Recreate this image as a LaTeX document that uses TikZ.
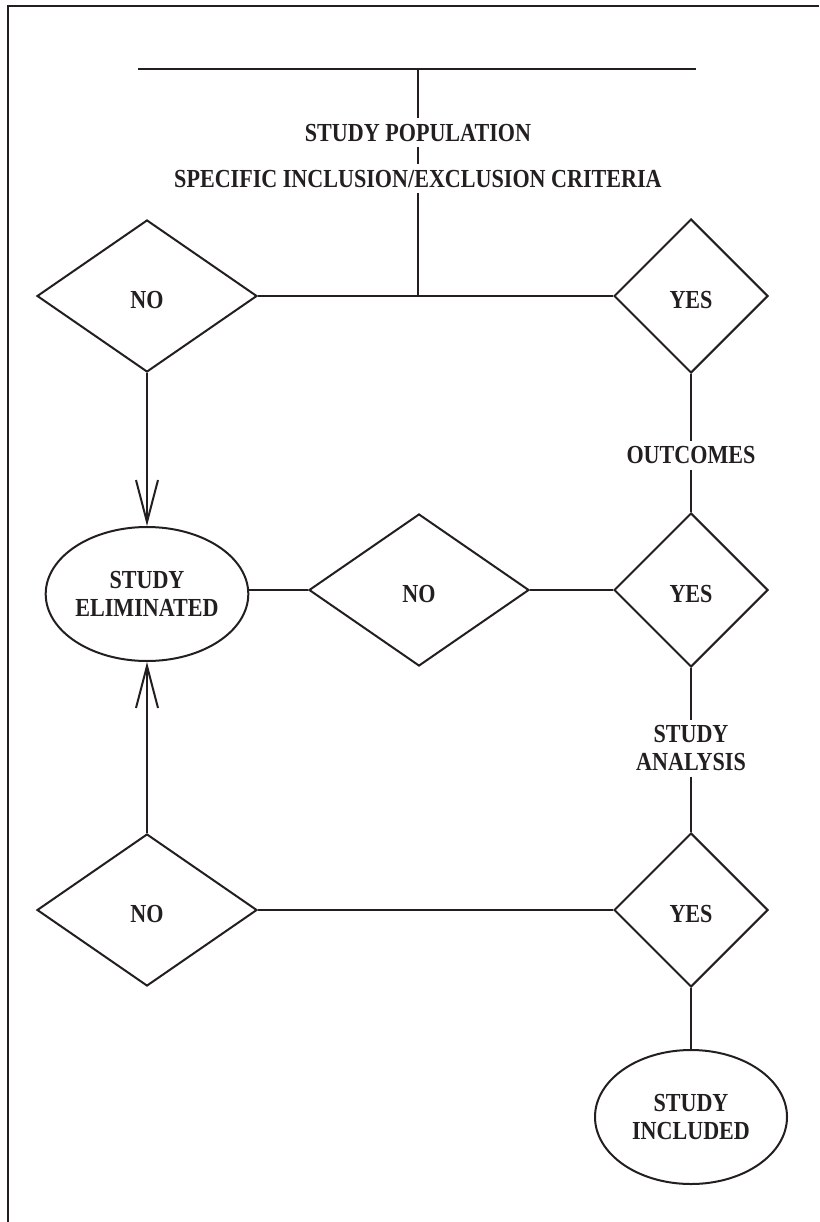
\documentclass[tikz,border=0pt]{standalone}
\usepackage{fontspec}
\setmainfont[FakeStretch=0.85]{Liberation Serif}
\usetikzlibrary{shapes.geometric,arrows.meta}
\definecolor{ink}{RGB}{35,31,32}

\begin{document}
\begin{tikzpicture}[x=1pt,y=-1pt,line width=2pt,color=ink,
  font=\fontsize{26}{28}\selectfont\bfseries,
  nobox/.style={diamond,draw,inner sep=0pt,minimum width=220pt,minimum height=152pt,text height=25pt,text depth=0pt},
  yesbox/.style={diamond,draw,inner sep=0pt,minimum width=154pt,minimum height=154pt,text height=25pt,text depth=0pt},
  endbox/.style={ellipse,draw,inner sep=0pt,minimum width=192pt,minimum height=134pt,align=center},
  lbl/.style={inner sep=5pt,align=center,text height=17pt,text depth=0pt},
  barb/.style={-{Straight Barb[length=42pt,width=22pt]}}]
\useasboundingbox (0,0) rectangle (819,1222);
\draw[line width=2.6pt] (8,1222) |- (819,6);

\coordinate (tl) at (138,69);
\coordinate (tr) at (696,69);
\coordinate (tm) at (418,69);
\draw[line width=2.6pt] (tl) -- (tr);

\node[lbl] (pop) at (418,133) {STUDY POPULATION};
\node[lbl] (crit) at (418,179) {SPECIFIC INCLUSION/EXCLUSION CRITERIA};
\coordinate (join) at (418,296);
\draw (tm) -- (pop) -- (crit) -- (join);

\node[nobox] (no1) at (147,296) {NO};
\node[yesbox] (yes1) at (691,296) {YES};
\draw (no1) -- (yes1);

\node[endbox] (elim) at (147,594) {STUDY\\ELIMINATED};
\node[nobox] (no2) at (419,590) {NO};
\node[yesbox] (yes2) at (691,590) {YES};
\draw (elim.east |- no2) -- (no2) -- (yes2);

\node[lbl] (outc) at (691,455) {OUTCOMES};
\draw (yes1) -- (outc) -- (yes2);

\node[nobox] (no3) at (147,910) {NO};
\node[yesbox] (yes3) at (691,910) {YES};
\draw (no3) -- (yes3);

\node[lbl,text height=45pt] (anal) at (691,748) {STUDY\\ANALYSIS};
\draw (yes2) -- (anal) -- (yes3);

\node[endbox] (incl) at (691,1117) {STUDY\\INCLUDED};
\draw (yes3) -- (incl);

\draw[barb] (no1) -- (elim);
\draw[barb] (no3) -- (elim);
\end{tikzpicture}
\end{document}
